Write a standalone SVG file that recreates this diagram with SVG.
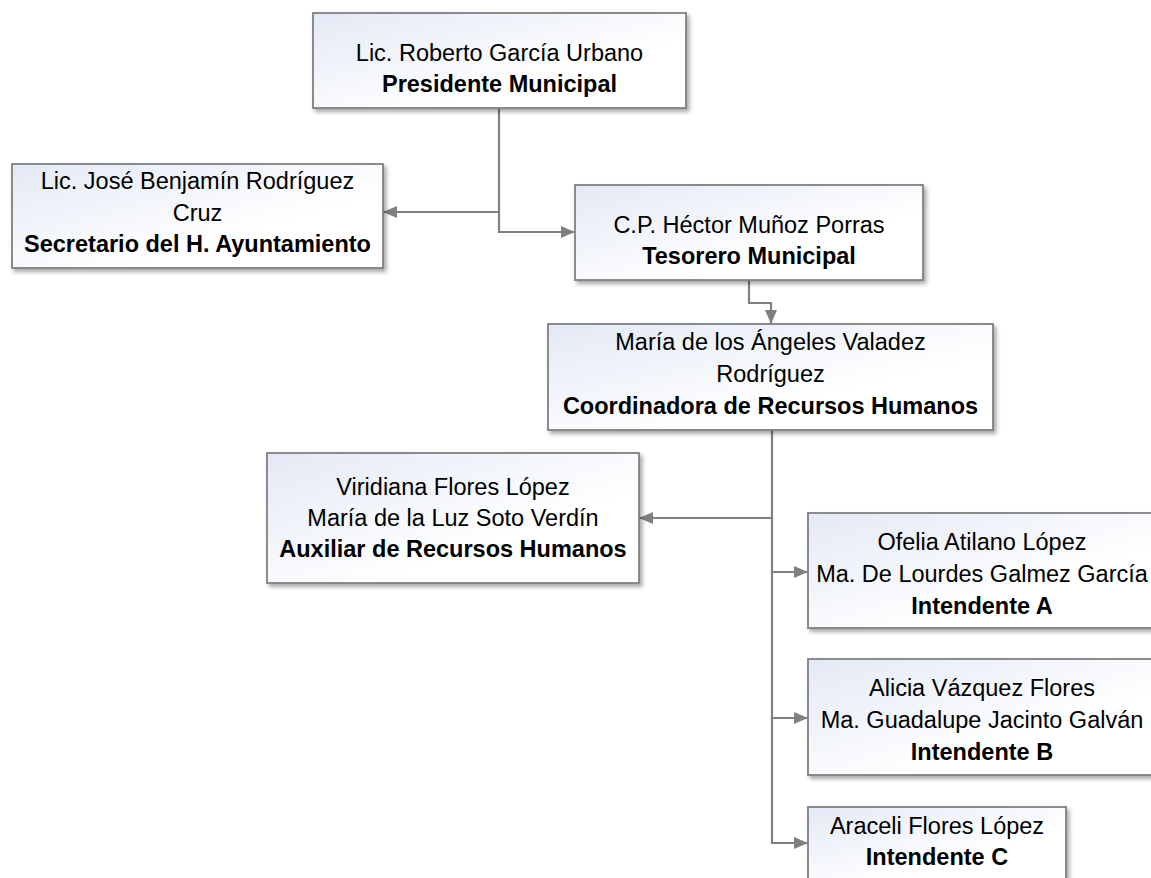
<svg xmlns="http://www.w3.org/2000/svg" width="1151" height="878" viewBox="0 0 1151 878">
<defs>
<linearGradient id="g" x1="0" y1="0" x2="1" y2="1">
<stop offset="0" stop-color="#e3e9f5"/>
<stop offset="0.65" stop-color="#ffffff"/>
</linearGradient>
<filter id="sh" x="-5%" y="-5%" width="115%" height="125%">
<feDropShadow dx="2.5" dy="3" stdDeviation="2" flood-color="#000" flood-opacity="0.35"/>
</filter>
<marker id="ah" viewBox="0 0 14 12" refX="14" refY="6" markerWidth="14" markerHeight="12" markerUnits="userSpaceOnUse" orient="auto">
<path d="M0,0 L14,6 L0,12 Z" fill="#808080"/>
</marker>
<style>
.box{fill:url(#g);stroke:#808080;stroke-width:1.8;filter:url(#sh)}
text{font-family:"Liberation Sans",Arial,sans-serif;font-size:23.5px;fill:#000;text-anchor:middle}
.b{font-weight:bold}
.c{fill:none;stroke:#808080;stroke-width:2.2}
</style>
</defs>
<rect width="1151" height="878" fill="#fff"/>
<g id="connectors">
<path class="c" d="M499,108 V212 H383" marker-end="url(#ah)"/>
<path class="c" d="M499,212 V232 H575" marker-end="url(#ah)"/>
<path class="c" d="M749,280 V303 H771 V324" marker-end="url(#ah)"/>
<path class="c" d="M772,430 V518 H639" marker-end="url(#ah)"/>
<path class="c" d="M772,518 V572 H808" marker-end="url(#ah)"/>
<path class="c" d="M772,572 V718 H808" marker-end="url(#ah)"/>
<path class="c" d="M772,718 V843 H808" marker-end="url(#ah)"/>
</g>
<g id="presidente">
<rect class="box" x="313" y="13" width="373" height="95"/>
<text x="499.5" y="61">Lic. Roberto García Urbano</text>
<text x="499.5" y="92" class="b">Presidente Municipal</text>
</g>
<g id="secretario">
<rect class="box" x="12" y="164" width="371" height="104"/>
<text x="197.5" y="189">Lic. José Benjamín Rodríguez</text>
<text x="197.5" y="221">Cruz</text>
<text x="197.5" y="252" class="b">Secretario del H. Ayuntamiento</text>
</g>
<g id="tesorero">
<rect class="box" x="575" y="185" width="348" height="95"/>
<text x="749" y="233">C.P. Héctor Muñoz Porras</text>
<text x="749" y="264" class="b">Tesorero Municipal</text>
</g>
<g id="coordinadora">
<rect class="box" x="548" y="324" width="445" height="106"/>
<text x="770.5" y="350">María de los Ángeles Valadez</text>
<text x="770.5" y="382">Rodríguez</text>
<text x="770.5" y="414" class="b">Coordinadora de Recursos Humanos</text>
</g>
<g id="auxiliar">
<rect class="box" x="267" y="453" width="372" height="130"/>
<text x="453" y="495">Viridiana Flores López</text>
<text x="453" y="526">María de la Luz Soto Verdín</text>
<text x="453" y="557" class="b">Auxiliar de Recursos Humanos</text>
</g>
<g id="intendente-a">
<rect class="box" x="808" y="513" width="350" height="115"/>
<text x="982" y="550">Ofelia Atilano López</text>
<text x="982" y="582">Ma. De Lourdes Galmez García</text>
<text x="982" y="614" class="b">Intendente A</text>
</g>
<g id="intendente-b">
<rect class="box" x="808" y="659" width="350" height="116"/>
<text x="982" y="696">Alicia Vázquez Flores</text>
<text x="982" y="728">Ma. Guadalupe Jacinto Galván</text>
<text x="982" y="760" class="b">Intendente B</text>
</g>
<g id="intendente-c">
<rect class="box" x="808" y="807" width="258" height="74"/>
<text x="937" y="834">Araceli Flores López</text>
<text x="937" y="865" class="b">Intendente C</text>
</g>
</svg>
